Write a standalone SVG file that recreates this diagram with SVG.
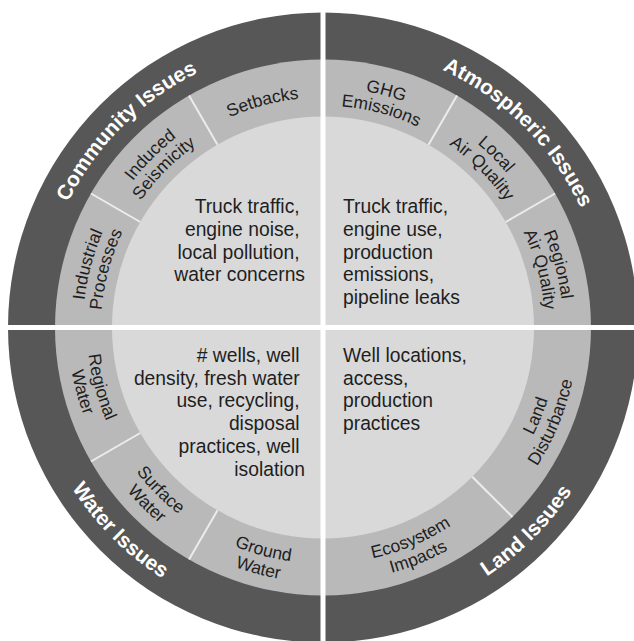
<svg xmlns="http://www.w3.org/2000/svg" width="634" height="641" viewBox="0 0 634 641">
<style>
.dark{fill:#575757}
.ring{fill:#b9b9b9}
.inner{fill:#d9d9d9}
.sep{stroke:#ececec;stroke-width:2}
.cross{stroke:#ffffff;stroke-width:5}
.title{font-family:"Liberation Sans",Arial,sans-serif;font-weight:bold;font-size:21px;fill:#ffffff}
.lab{font-family:"Liberation Sans",Arial,sans-serif;font-size:17.5px;fill:#1e1e1e}
.body{font-family:"Liberation Sans",Arial,sans-serif;font-size:19.3px;fill:#1e1e1e}
</style>
<defs>
<path id="t240" d="M83 327.5 A240 240 0 0 1 563 327.5"/>
<path id="t222" d="M101 327.5 A222 222 0 0 1 545 327.5"/>
<path id="t230" d="M93 327.5 A230 230 0 0 1 553 327.5"/>
<path id="t284" d="M39 327.5 A284 284 0 0 1 607 327.5"/>
<path id="b236" d="M87 327.5 A236 236 0 0 0 559 327.5"/>
<path id="b255" d="M68 327.5 A255 255 0 0 0 578 327.5"/>
<path id="b298" d="M25 327.5 A298 298 0 0 0 621 327.5"/>
</defs>
<rect width="634" height="641" fill="#ffffff"/>

<g id="community">
<path class="dark" d="M323 327.5 L8 327.5 A315 315 0 0 1 323 12.5 Z"/>
<path class="ring" d="M323 327.5 L55 327.5 A268 268 0 0 1 323 59.5 Z"/>
<path class="inner" d="M323 327.5 L112 327.5 A211 211 0 0 1 323 116.5 Z"/>
<line class="sep" x1="140.27" y1="222" x2="90.91" y2="193.5"/>
<line class="sep" x1="217.5" y1="144.77" x2="189" y2="95.41"/>
<text class="title"><textPath href="#t284" startOffset="25%" text-anchor="middle">Community Issues</textPath></text>
<text class="lab"><textPath href="#t240" startOffset="8.333%" text-anchor="middle">Industrial</textPath></text>
<text class="lab"><textPath href="#t222" startOffset="8.333%" text-anchor="middle">Processes</textPath></text>
<text class="lab"><textPath href="#t240" startOffset="25%" text-anchor="middle">Induced</textPath></text>
<text class="lab"><textPath href="#t222" startOffset="25%" text-anchor="middle">Seismicity</textPath></text>
<text class="lab"><textPath href="#t230" startOffset="41.667%" text-anchor="middle">Setbacks</textPath></text>
<text class="body" text-anchor="end">
<tspan x="305" y="213">Truck traffic,</tspan>
<tspan x="305" y="235.8">engine noise,</tspan>
<tspan x="305" y="258.6">local pollution,</tspan>
<tspan x="305" y="281.4">water concerns</tspan>
</text>
</g>

<g id="atmospheric">
<path class="dark" d="M323 327.5 L323 12.5 A315 315 0 0 1 638 327.5 Z"/>
<path class="ring" d="M323 327.5 L323 59.5 A268 268 0 0 1 591 327.5 Z"/>
<path class="inner" d="M323 327.5 L323 116.5 A211 211 0 0 1 534 327.5 Z"/>
<line class="sep" x1="428.5" y1="144.77" x2="457" y2="95.41"/>
<line class="sep" x1="505.73" y1="222" x2="555.09" y2="193.5"/>
<text class="title"><textPath href="#t284" startOffset="75%" text-anchor="middle">Atmospheric Issues</textPath></text>
<text class="lab"><textPath href="#t240" startOffset="58.333%" text-anchor="middle">GHG</textPath></text>
<text class="lab"><textPath href="#t222" startOffset="58.333%" text-anchor="middle">Emissions</textPath></text>
<text class="lab"><textPath href="#t240" startOffset="75%" text-anchor="middle">Local</textPath></text>
<text class="lab"><textPath href="#t222" startOffset="75%" text-anchor="middle">Air Quality</textPath></text>
<text class="lab"><textPath href="#t240" startOffset="91.667%" text-anchor="middle">Regional</textPath></text>
<text class="lab"><textPath href="#t222" startOffset="91.667%" text-anchor="middle">Air Quality</textPath></text>
<text class="body">
<tspan x="343" y="213">Truck traffic,</tspan>
<tspan x="343" y="235.8">engine use,</tspan>
<tspan x="343" y="258.6">production</tspan>
<tspan x="343" y="281.4">emissions,</tspan>
<tspan x="343" y="304.2">pipeline leaks</tspan>
</text>
</g>

<g id="water">
<path class="dark" d="M323 327.5 L323 642.5 A315 315 0 0 1 8 327.5 Z"/>
<path class="ring" d="M323 327.5 L323 595.5 A268 268 0 0 1 55 327.5 Z"/>
<path class="inner" d="M323 327.5 L323 538.5 A211 211 0 0 1 112 327.5 Z"/>
<line class="sep" x1="140.27" y1="433" x2="90.91" y2="461.5"/>
<line class="sep" x1="217.5" y1="510.23" x2="189" y2="559.59"/>
<text class="title"><textPath href="#b298" startOffset="25%" text-anchor="middle">Water Issues</textPath></text>
<text class="lab"><textPath href="#b236" startOffset="8.333%" text-anchor="middle">Regional</textPath></text>
<text class="lab"><textPath href="#b255" startOffset="8.333%" text-anchor="middle">Water</textPath></text>
<text class="lab"><textPath href="#b236" startOffset="25%" text-anchor="middle">Surface</textPath></text>
<text class="lab"><textPath href="#b255" startOffset="25%" text-anchor="middle">Water</textPath></text>
<text class="lab"><textPath href="#b236" startOffset="41.667%" text-anchor="middle">Ground</textPath></text>
<text class="lab"><textPath href="#b255" startOffset="41.667%" text-anchor="middle">Water</textPath></text>
<text class="body" text-anchor="end">
<tspan x="305" y="361.7"># wells, well</tspan>
<tspan x="305" y="384.5">density, fresh water</tspan>
<tspan x="305" y="407.3">use, recycling,</tspan>
<tspan x="305" y="430.1">disposal</tspan>
<tspan x="305" y="452.9">practices, well</tspan>
<tspan x="305" y="475.7">isolation</tspan>
</text>
</g>

<g id="land">
<path class="dark" d="M323 327.5 L638 327.5 A315 315 0 0 1 323 642.5 Z"/>
<path class="ring" d="M323 327.5 L591 327.5 A268 268 0 0 1 323 595.5 Z"/>
<path class="inner" d="M323 327.5 L534 327.5 A211 211 0 0 1 323 538.5 Z"/>
<line class="sep" x1="472.2" y1="476.7" x2="512.5" y2="517"/>
<text class="title"><textPath href="#b298" startOffset="75%" text-anchor="middle">Land Issues</textPath></text>
<text class="lab"><textPath href="#b236" startOffset="87.5%" text-anchor="middle">Land</textPath></text>
<text class="lab"><textPath href="#b255" startOffset="87.5%" text-anchor="middle">Disturbance</textPath></text>
<text class="lab"><textPath href="#b236" startOffset="62.5%" text-anchor="middle">Ecosystem</textPath></text>
<text class="lab"><textPath href="#b255" startOffset="62.5%" text-anchor="middle">Impacts</textPath></text>
<text class="body">
<tspan x="343" y="361.7">Well locations,</tspan>
<tspan x="343" y="384.5">access,</tspan>
<tspan x="343" y="407.3">production</tspan>
<tspan x="343" y="430.1">practices</tspan>
</text>
</g>

<g id="connectors">
<line class="cross" x1="323" y1="0" x2="323" y2="641"/>
<line class="cross" x1="0" y1="327.5" x2="634" y2="327.5"/>
</g>
</svg>
